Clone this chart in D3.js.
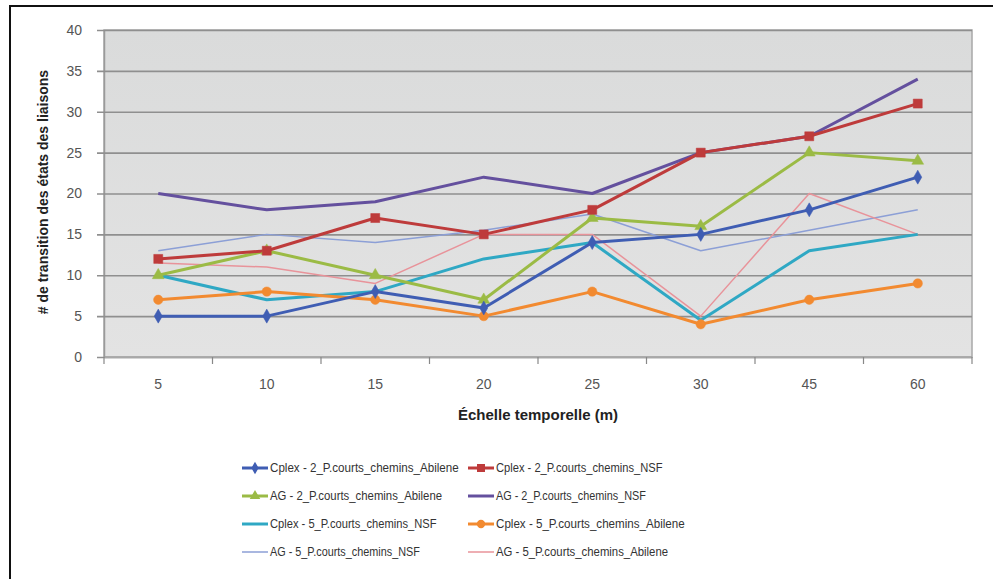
<!DOCTYPE html>
<html><head><meta charset="utf-8">
<script src="https://cdn.jsdelivr.net/npm/d3@7/dist/d3.min.js"></script>
<style>
html,body{margin:0;padding:0;background:#fff;}
svg{display:block;}
</style></head>
<body>
<svg id="chart" width="993" height="579"></svg>
<script>
const categories = ["5","10","15","20","25","30","45","60"];
const yTicks = [0,5,10,15,20,25,30,35,40];

const seriesNames = [
  "Cplex - 2_P.courts_chemins_Abilene",
  "Cplex - 2_P.courts_chemins_NSF",
  "AG - 2_P.courts_chemins_Abilene",
  "AG - 2_P.courts_chemins_NSF",
  "Cplex - 5_P.courts_chemins_NSF",
  "Cplex - 5_P.courts_chemins_Abilene",
  "AG - 5_P.courts_chemins_NSF",
  "AG - 5_P.courts_chemins_Abilene"
];
const cplex2Abilene = [5, 5, 8, 6, 14, 15, 18, 22];
const cplex2NSF     = [12, 13, 17, 15, 18, 25, 27, 31];
const ag2Abilene    = [10, 13, 10, 7, 17, 16, 25, 24];
const ag2NSF        = [20, 18, 19, 22, 20, 25, 27, 34];
const cplex5NSF     = [10, 7, 8, 12, 14, 4.5, 13, 15];
const cplex5Abilene = [7, 8, 7, 5, 8, 4, 7, 9];
const ag5NSF        = [13, 15, 14, 15.5, 17.5, 13, 15.5, 18];
const ag5Abilene    = [11.5, 11, 9, 15, 15, 5, 20, 15];

const seriesValues = [cplex2Abilene, cplex2NSF, ag2Abilene, ag2NSF, cplex5NSF, cplex5Abilene, ag5NSF, ag5Abilene];
const seriesColors = ["#3f5db3","#be3b3b","#9bbb45","#64509e","#2fa8c4","#f28a30","#8c9fd6","#e8939a"];
const seriesWidths = [3, 3, 3, 3, 3, 3, 1.5, 1.5];
const seriesMarkers = ["diamond","square","triangle","none","none","circle","none","none"];

const svg = d3.select("#chart");
const W = 993, H = 579;
const plot = {left:104, right:972, top:30, bottom:357};

// outer frame
svg.append("rect").attr("x",10).attr("y",6).attr("width",W).attr("height",H)
  .attr("fill","#fff").attr("stroke","#111").attr("stroke-width",2);

const defs = svg.append("defs");
const grad = defs.append("linearGradient").attr("id","bg").attr("x1",0).attr("y1",0).attr("x2",0).attr("y2",1);
grad.append("stop").attr("offset","0%").attr("stop-color","#dadbdb");
grad.append("stop").attr("offset","100%").attr("stop-color","#e3e3e3");

const x = d3.scaleBand().domain(categories).range([plot.left, plot.right]).padding(0);
const y = d3.scaleLinear().domain([0,40]).range([plot.bottom, plot.top]);

svg.append("rect").attr("x",plot.left).attr("y",plot.top)
  .attr("width",plot.right-plot.left).attr("height",plot.bottom-plot.top)
  .attr("fill","url(#bg)").attr("stroke","#a8a8a8").attr("stroke-width",1.5);

// y axis with gridlines
const yAxis = d3.axisLeft(y).tickValues(yTicks).tickSize(-(plot.right-plot.left)).tickSizeOuter(0).tickPadding(16);
const gy = svg.append("g").attr("transform",`translate(${plot.left},0)`).call(yAxis);
gy.select(".domain").attr("stroke","#9a9a9a").attr("stroke-width",1.5);
gy.selectAll(".tick line").attr("stroke","#8f8f8f").attr("stroke-width",1.6).attr("x1",-7);
gy.selectAll(".tick text").attr("fill","#555").attr("font-size",14)
  .attr("font-family","'Liberation Sans', Arial, sans-serif").attr("dx",-6);

// x axis
const xAxis = d3.axisBottom(x).tickSize(0).tickPadding(22);
const gx = svg.append("g").attr("transform",`translate(0,${plot.bottom})`).call(xAxis);
gx.select(".domain").attr("stroke","#a8a8a8").attr("stroke-width",1.5);
gx.selectAll(".tick text").attr("fill","#555").attr("font-size",14)
  .attr("font-family","'Liberation Sans', Arial, sans-serif");
// category boundary ticks
const bounds = categories.map(c => x(c)).concat([plot.right]);
gx.selectAll("line.bt").data(bounds).join("line").attr("class","bt")
  .attr("x1",d=>d).attr("x2",d=>d).attr("y1",0).attr("y2",7)
  .attr("stroke","#888").attr("stroke-width",1.2);

// axis titles
svg.append("text").attr("x",538).attr("y",420).attr("text-anchor","middle")
  .attr("font-family","'Liberation Sans', Arial, sans-serif").attr("font-weight","bold")
  .attr("font-size",15).attr("fill","#222").text("Échelle  temporelle (m)");
svg.append("text").attr("transform","translate(48,192) rotate(-90)").attr("text-anchor","middle")
  .attr("font-family","'Liberation Sans', Arial, sans-serif").attr("font-weight","bold")
  .attr("font-size",14).attr("fill","#222").text("# de transition des états des liaisons");

const cx = c => x(c) + x.bandwidth()/2;
const line = d3.line().x((d,i)=>cx(categories[i])).y(d=>y(d));

// draw lines (thin ones first)
const order = [6,7,4,5,2,0,3,1];
order.forEach(si => {
  svg.append("path").datum(seriesValues[si]).attr("d",line)
    .attr("fill","none").attr("stroke",seriesColors[si]).attr("stroke-width",seriesWidths[si])
    .attr("stroke-linejoin","round");
});

function markerPath(type, s){
  switch(type){
    case "diamond": return d3.symbol(d3.symbolDiamond, s*s*0.7)();
    case "square": return d3.symbol(d3.symbolSquare, s*s)();
    case "triangle": return d3.symbol(d3.symbolTriangle, s*s*0.75)();
    case "circle": return d3.symbol(d3.symbolCircle, s*s*0.85)();
  }
  return null;
}
order.forEach(si => {
  const t = seriesMarkers[si];
  if(t==="none") return;
  svg.append("g").selectAll("path").data(seriesValues[si]).join("path")
    .attr("transform",(d,i)=>`translate(${cx(categories[i])},${y(d)})`)
    .attr("d",markerPath(t, 9))
    .attr("fill",seriesColors[si]).attr("stroke",seriesColors[si]).attr("stroke-width",0.5);
});

// legend
const legX = [242, 468], legY = [468, 496, 524, 552];
const leg = svg.append("g");
seriesNames.forEach((name, i) => {
  const col = i % 2, row = Math.floor(i/2);
  const lx = legX[col], ly = legY[row];
  const g = leg.append("g");
  g.append("line").attr("x1",lx).attr("x2",lx+26).attr("y1",ly).attr("y2",ly)
    .attr("stroke",seriesColors[i]).attr("stroke-width",seriesWidths[i]);
  if(seriesMarkers[i]!=="none"){
    g.append("path").attr("transform",`translate(${lx+13},${ly})`)
      .attr("d",markerPath(seriesMarkers[i], 8)).attr("fill",seriesColors[i]);
  }
  g.append("text").attr("x",lx+28).attr("y",ly+4)
    .attr("font-family","'Liberation Sans Narrow', 'Arial Narrow', 'Liberation Sans', sans-serif")
    .attr("font-size",12).attr("fill","#333")
    .attr("textLength", name.length*5.55).attr("lengthAdjust","spacingAndGlyphs")
    .text(name);
});
</script>
</body></html>
